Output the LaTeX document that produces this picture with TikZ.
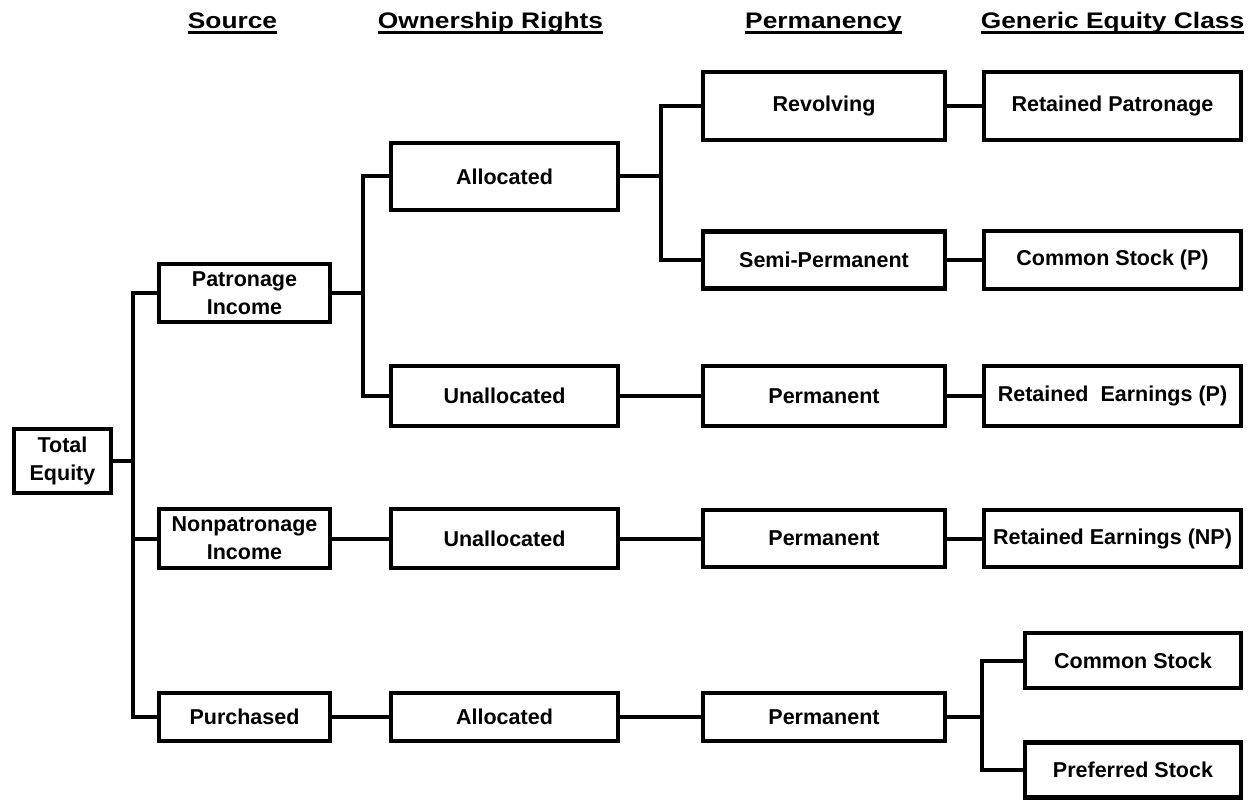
\documentclass[tikz,border=0pt]{standalone}
\usepackage{fontspec}
\setmainfont{Liberation Sans}
\newfontfamily\headfont[FakeStretch=1.17]{Liberation Sans}

\tikzset{
	box/.style={draw, line width=4.2pt, inner sep=0pt, align=center,
		font=\bfseries\fontsize{21.5}{28}\selectfont},
	src/.style={box, minimum width=171pt},
	own/.style={box, minimum width=227pt},
	prm/.style={box, minimum width=242pt},
	gen/.style={box, minimum width=257pt},
	head/.style={inner sep=0pt, anchor=base,
		font=\headfont\bfseries\fontsize{22.5}{27}\selectfont},
	link/.style={line width=4pt, line join=miter},
	uline/.style={line width=3pt},
}

\begin{document}
\begin{tikzpicture}[x=1pt, y=-1pt]
		\useasboundingbox (0,0) rectangle (1252,802);
		
		% column heads
		\node[head] (hsrc) at (232.5,29) {Source};
		\node[head] (hown) at (490.5,29) {Ownership Rights};
		\node[head] (hprm) at (823.5,29) {Permanency};
		\node[head] (hgen) at (1112.5,29) {Generic Equity Class};
		\draw[uline] ([yshift=-4pt]hsrc.base west) -- ([yshift=-4pt]hsrc.base east);
		\draw[uline] ([yshift=-4pt]hown.base west) -- ([yshift=-4pt]hown.base east);
		\draw[uline] ([yshift=-4pt]hprm.base west) -- ([yshift=-4pt]hprm.base east);
		\draw[uline] ([yshift=-4pt]hgen.base west) -- ([yshift=-4pt]hgen.base east);
		
		% boxes
		\node[box, minimum width=97pt, minimum height=64pt] (tot) at (62.5,461) {Total\\Equity};
		
		\node[src, minimum height=58pt] (pat) at (244.5,293) {Patronage\\Income};
		\node[src, minimum height=59pt] (npat) at (244.5,538.5) {Nonpatronage\\Income};
		\node[src, minimum height=48pt] (pur) at (244.5,717) {Purchased};
		
		\node[own, minimum height=67pt] (alloc1) at (504.5,176.5) {Allocated};
		\node[own, minimum height=60pt] (unal1) at (504.5,396) {Unallocated};
		\node[own, minimum height=59pt] (unal2) at (504.5,538.5) {Unallocated};
		\node[own, minimum height=48pt] (alloc2) at (504.5,717) {Allocated};
		
		\node[prm, minimum height=68pt] (rev) at (824,106) {Revolving};
		\node[prm, minimum height=57pt] (semi) at (824,260) {Semi-Permanent};
		\node[prm, minimum height=60pt] (perm1) at (824,396) {Permanent};
		\node[prm, minimum height=57pt] (perm2) at (824,538.5) {Permanent};
		\node[prm, minimum height=48pt] (perm3) at (824,717) {Permanent};
		
		\node[gen, minimum height=68pt] (retpat) at (1112.5,106) {Retained Patronage};
		\node[gen, minimum height=58pt] (comp) at (1112.5,260) {Common Stock (P)};
		\node[gen, minimum height=60pt] (rep) at (1112.5,396) {Retained\ \ Earnings (P)};
		\node[gen, minimum height=57pt] (renp) at (1112.5,538.5) {Retained Earnings (NP)};
		\node[box, minimum width=216pt, minimum height=55pt] (com) at (1133,660.5) {Common Stock};
		\node[box, minimum width=216pt, minimum height=55pt] (pref) at (1133,770) {Preferred Stock};
		
		% connectors
		\draw[link] (tot.east) -- ++(20,0) |- (pat.west);
		\draw[link] (tot.east) -- ++(20,0) |- (npat.west);
		\draw[link] (tot.east) -- ++(20,0) |- (pur.west);
		
		\draw[link] (pat.east) -- ++(31,0) |- (alloc1.west);
		\draw[link] (pat.east) -- ++(31,0) |- (unal1.west);
		\draw[link] (npat) -- (unal2);
		\draw[link] (pur) -- (alloc2);
		
		\draw[link] (alloc1.east) -- ++(41,0) |- (rev.west);
		\draw[link] (alloc1.east) -- ++(41,0) |- (semi.west);
		\draw[link] (unal1) -- (perm1);
		\draw[link] (unal2) -- (perm2);
		\draw[link] (alloc2) -- (perm3);
		
		\draw[link] (rev) -- (retpat);
		\draw[link] (semi) -- (comp);
		\draw[link] (perm1) -- (rep);
		\draw[link] (perm2) -- (renp);
		\draw[link] (perm3.east) -- ++(35,0) |- (com.west);
		\draw[link] (perm3.east) -- ++(35,0) |- (pref.west);
	\end{tikzpicture}
\end{document}
